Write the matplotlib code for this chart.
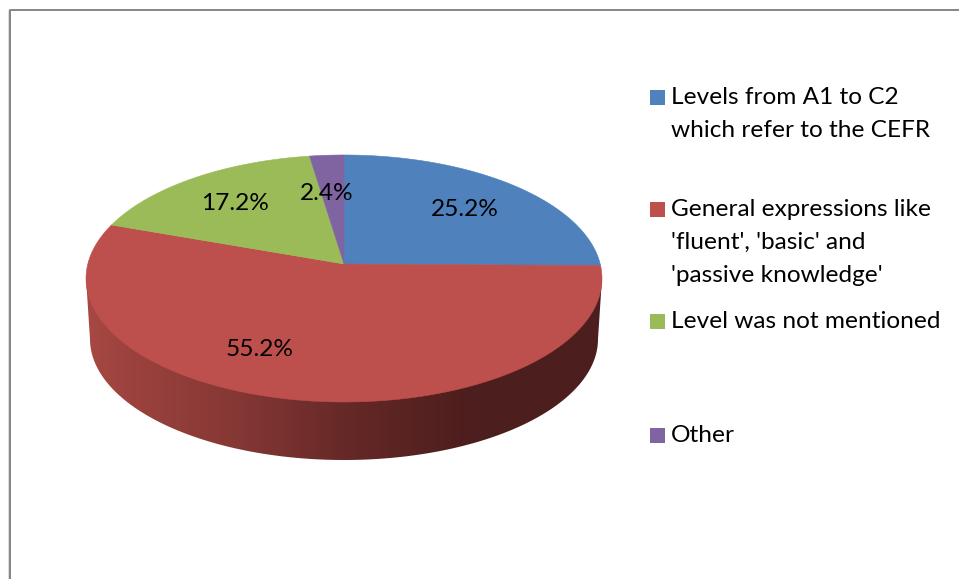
import numpy as np
import matplotlib
matplotlib.use('Agg')
import matplotlib.pyplot as plt
from matplotlib.patches import Polygon, Rectangle

plt.rcParams['font.family'] = ['Lato', 'DejaVu Sans']

# Data
categories = ['Levels from A1 to C2\nwhich refer to the CEFR',
              "General expressions like\n'fluent', 'basic' and\n'passive knowledge'",
              'Level was not mentioned',
              'Other']
values = [25.2, 55.2, 17.2, 2.4]
value_labels = ['25.2%', '55.2%', '17.2%', '2.4%']
colors = ['#4f81bd', '#bd4f4c', '#9bbb59', '#8064a2']

# Layout in pixels of the picture
cx, cy = 344, 264
A, B, k = 256.2, 121.8, 0.1174  # tilt of the pie
label_pos = [(465, 209), (260, 349), (235, 203), (327, 194)]
legend_y = [98, 210, 322, 436]
line_gap = 32.5


def project(theta):
    # theta runs clockwise from 12 o'clock, result is tilted like the 3D pie
    u, v = np.sin(theta), np.cos(theta)
    d = 1 + k * v
    return cx + A * u / d, cy - B * v / d


fig = plt.figure(figsize=(9.59, 5.79), dpi=100)
ax = fig.add_axes([0, 0, 1, 1])
ax.set_xlim(0, 959)
ax.set_ylim(579, 0)
ax.axis('off')

# chart frame
ax.plot([8.5, 8.5], [579, 10], color='#d9d9d9', lw=2, solid_capstyle='butt', zorder=1)
ax.plot([10, 10, 959], [579, 10, 10], color='#868686', lw=1.4, zorder=2)

# side wall of the pie, red only because that slice faces the front
t = np.linspace(0, np.pi, 361)
bx = 344 + 254 * np.cos(t)
by = 339 + 121 * np.sin(t)
wall_xy = np.vstack([[602, 278], np.column_stack([bx, by]), [86, 278]])
wall = Polygon(wall_xy, closed=True, facecolor='none', edgecolor='none')
ax.add_patch(wall)
stops_x = [86, 130, 240, 344, 470, 602]
stops_r = [167, 156, 132, 102, 76, 76]
stops_g = [72, 66, 55, 41, 30, 30]
stops_b = [68, 62, 52, 39, 29, 29]
xs = np.arange(86, 603)
grad = np.dstack([np.interp(xs, stops_x, stops_r),
                  np.interp(xs, stops_x, stops_g),
                  np.interp(xs, stops_x, stops_b)])[0:1] / 255
im = ax.imshow(grad, extent=[86, 603, 470, 260], aspect='auto', zorder=3)
im.set_clip_path(wall)
ax.set_xlim(0, 959)
ax.set_ylim(579, 0)

# top face slices
edges = np.cumsum([0] + values) / sum(values) * 2 * np.pi
for i in range(len(values)):
    th = np.linspace(edges[i], edges[i + 1], 200)
    px, py = project(th)
    pts = np.vstack([[cx, cy], np.column_stack([px, py])])
    ax.add_patch(Polygon(pts, closed=True, facecolor=colors[i], edgecolor=colors[i],
                         lw=0.4, zorder=4))

for txt, (lx, ly) in zip(value_labels, label_pos):
    ax.text(lx, ly, txt, fontsize=17.6, color='black', ha='center', va='center', zorder=5)

# legend
for name, col, y in zip(categories, colors, legend_y):
    ax.add_patch(Rectangle((650, y - 8), 15, 15, facecolor=col, edgecolor='none', zorder=5))
    for j, line in enumerate(name.split('\n')):
        ax.text(671, y + j * line_gap, line, fontsize=17.6, color='black',
                ha='left', va='center', zorder=5)

fig.savefig('out.png', dpi=100)
